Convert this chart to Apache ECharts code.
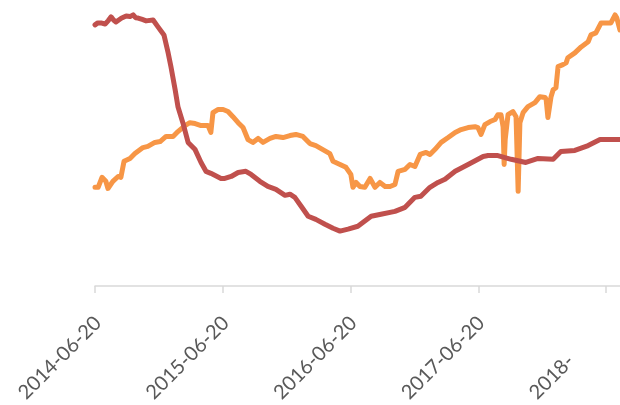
<!DOCTYPE html>
<html>
<head>
<meta charset="utf-8">
<script src="https://cdn.jsdelivr.net/npm/echarts@6/dist/echarts.min.js"></script>
<style>
  html, body { margin: 0; padding: 0; background: #fff; }
  #chart { width: 620px; height: 405px; }
</style>
</head>
<body>
<div id="chart"></div>
<script>
// x = days since 2014-06-20, y = index level (y axis is hidden, scale 0..100)
let tickDays = [0, 365, 730, 1095, 1460];
let tickLabels = ['2014-06-20', '2015-06-20', '2016-06-20', '2017-06-20', '2018-06-20'];
let lastLabelShown = 5; // the last label is cut after "2018-" in the picture

let orangeLine = [
  [0, 34.5], [9, 34.5], [20, 38.0], [31, 36.6], [37, 34.1], [51, 36.6], [66, 38.3], [74, 38.0],
  [83, 43.6], [100, 44.6], [114, 46.3], [137, 48.4], [151, 48.8], [171, 50.2], [186, 50.5],
  [203, 52.3], [223, 52.3], [237, 54.0], [257, 56.1], [271, 57.1], [286, 56.8], [303, 56.1],
  [323, 56.1], [331, 53.7], [337, 60.6], [351, 61.7], [366, 61.7], [380, 61.0], [394, 59.2],
  [409, 57.1], [423, 55.4], [437, 51.2], [451, 50.2], [466, 51.6], [480, 50.2], [500, 51.6],
  [517, 52.3], [537, 51.9], [557, 52.6], [574, 53.0], [594, 52.3], [614, 49.8], [631, 49.1],
  [651, 47.7], [671, 46.3], [680, 43.6], [700, 42.5], [717, 41.5], [731, 39.0], [737, 34.5],
  [746, 36.2], [757, 34.8], [771, 34.5], [786, 37.6], [800, 34.5], [814, 36.2], [829, 34.8],
  [843, 34.8], [857, 35.5], [866, 40.1], [886, 40.8], [900, 42.5], [914, 41.8], [929, 46.0],
  [946, 46.7], [957, 46.0], [971, 47.7], [989, 50.2], [1009, 51.9], [1029, 53.7], [1046, 54.7],
  [1066, 55.4], [1086, 55.7], [1094, 55.4], [1103, 53.0], [1114, 56.4], [1129, 57.5],
  [1143, 58.2], [1151, 59.9], [1160, 59.9], [1166, 55.7], [1169, 42.5], [1172, 51.2],
  [1180, 59.9], [1194, 61.0], [1203, 59.2], [1209, 33.1], [1214, 57.1], [1223, 60.6],
  [1237, 62.7], [1257, 64.1], [1271, 66.2], [1286, 65.9], [1289, 65.2], [1294, 58.9],
  [1303, 66.2], [1309, 68.6], [1317, 69.3], [1323, 76.7], [1337, 77.4], [1346, 78.0],
  [1351, 79.8], [1371, 81.5], [1389, 83.6], [1409, 85.4], [1417, 87.8], [1431, 88.5],
  [1446, 92.0], [1474, 92.0], [1486, 94.8], [1491, 93.7], [1500, 89.5]
];

let redLine = [
  [0, 91.3], [8, 92.0], [17, 92.0], [29, 91.6], [38, 92.8], [46, 94.1], [53, 93.0], [60, 92.3],
  [75, 93.6], [89, 94.4], [100, 94.2], [109, 94.8], [116, 93.8], [123, 93.7], [135, 93.2],
  [146, 92.7], [166, 93.0], [180, 90.6], [197, 87.8], [209, 81.5], [217, 76.7],
  [229, 68.6], [237, 62.7], [251, 57.1], [266, 50.2], [286, 47.7], [303, 43.2], [317, 40.1],
  [331, 39.4], [360, 37.6], [371, 37.6], [389, 38.3], [409, 39.7], [431, 40.1], [446, 39.0],
  [471, 36.6], [494, 34.8], [517, 33.8], [543, 31.7], [557, 32.1], [571, 31.0], [589, 27.9],
  [609, 24.4], [631, 23.3], [657, 21.6], [680, 20.2], [700, 19.2], [723, 19.9], [751, 20.9],
  [789, 24.4], [817, 25.1], [857, 26.1], [886, 27.5], [914, 31.0], [931, 31.4], [957, 34.5],
  [980, 36.2], [1000, 37.3], [1029, 40.1], [1066, 42.5], [1109, 45.3], [1123, 45.6],
  [1151, 45.6], [1189, 44.3], [1231, 43.2], [1266, 44.6], [1309, 44.3], [1331, 47.0],
  [1371, 47.4], [1409, 49.1], [1443, 51.2], [1474, 51.2], [1500, 51.2]
];

let chart = echarts.init(document.getElementById('chart'));

let labelFont = { fontSize: 20, fontFamily: 'Lato', color: '#595959' };

let option = {
  animation: false,
  grid: { left: 95, right: 0, top: 0, bottom: 119, outerBoundsMode: 'none', containLabel: false },
  xAxis: {
    type: 'value',
    min: 0,
    max: 1500,
    splitLine: { show: false },
    axisLine: { lineStyle: { color: '#d9d9d9', width: 1.5 } },
    axisTick: { customValues: tickDays, length: 7, lineStyle: { color: '#d9d9d9', width: 1.5 } },
    axisLabel: {
      customValues: tickDays,
      rotate: 45,
      margin: 31,
      padding: [8, 0, 0, 0],
      fontSize: labelFont.fontSize,
      fontFamily: labelFont.fontFamily,
      color: labelFont.color,
      formatter: function (val) {
        let i = tickDays.indexOf(val);
        if (i < 0) return '';
        let txt = tickLabels[i];
        if (i === tickLabels.length - 1) {
          // keep the hidden tail so the visible part sits where the reference has it
          return txt.slice(0, lastLabelShown) + '{cut|' + txt.slice(lastLabelShown) + '}';
        }
        return txt;
      },
      rich: {
        cut: { fontSize: labelFont.fontSize, fontFamily: labelFont.fontFamily, color: 'rgba(0,0,0,0)' }
      }
    }
  },
  yAxis: { type: 'value', min: 0, max: 100, show: false },
  series: [
    {
      type: 'line',
      data: orangeLine,
      showSymbol: false,
      color: '#f79646',
      lineStyle: { width: 5, color: '#f79646', join: 'round', cap: 'round' }
    },
    {
      type: 'line',
      data: redLine,
      showSymbol: false,
      color: '#c0504d',
      lineStyle: { width: 5, color: '#c0504d', join: 'round', cap: 'round' }
    }
  ]
};

chart.setOption(option);
</script>
</body>
</html>
